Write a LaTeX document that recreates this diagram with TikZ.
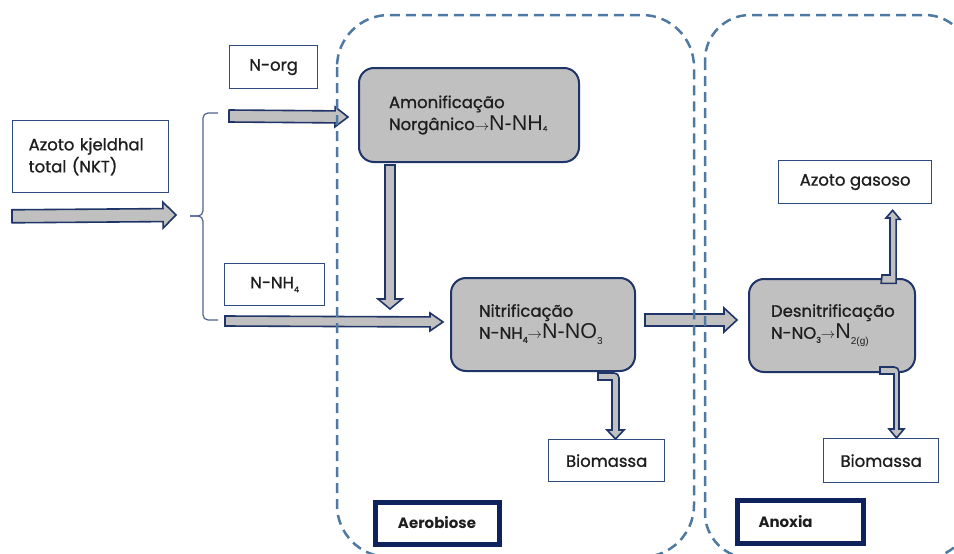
\documentclass[tikz,border=0pt]{standalone}
\usepackage{fontspec}
\setmainfont{Poppins}[UprightFeatures={FakeBold=1}]
\newfontfamily\chemfont{Liberation Sans}
\usetikzlibrary{calc}

\definecolor{navy}{HTML}{1F3468}
\definecolor{boxline}{HTML}{2F4B80}
\definecolor{procfill}{HTML}{C0C0C0}
\definecolor{zone}{HTML}{4E79A3}
\definecolor{txt}{HTML}{1E1E1E}
\definecolor{labelline}{HTML}{0E235E}
\definecolor{bracecol}{HTML}{50658F}

% chemical notation helpers
\newcommand\chem[1]{{\chemfont\fontsize{21.5}{21.5}\selectfont #1}}
\newcommand\lowsub[3]{\raisebox{-#2}{\fontsize{#1}{#1}\selectfont #3}}
\newcommand\arr{{\fontsize{14}{14}\selectfont$\rightarrow$}}

% block arrow: [style]{from}{to}{shaft half width}{head half width}{head length}
\newcommand\fatarrow[6][]{%
  \coordinate (fab) at ($(#3)!#6!(#2)$);
  \draw[fat,#1] ($(#2)!#4!90:(#3)$) -- ($(fab)!#4!90:(#3)$) -- ($(fab)!#5!90:(#3)$) -- (#3)
    -- ($(fab)!#5!-90:(#3)$) -- ($(fab)!#4!-90:(#3)$) -- ($(#2)!#4!-90:(#3)$) -- cycle;}

\begin{document}
\begin{tikzpicture}[x=1pt,y=-1pt,
  basefont/.style={font=\fontsize{16.5}{22}\selectfont, text=txt},
  textbox/.style={basefont, draw=boxline, line width=1.3pt, fill=white, inner sep=0pt, anchor=north west},
  process/.style={basefont, draw=navy, line width=2pt, fill=procfill, rounded corners=15pt,
    inner sep=0pt, align=left, anchor=north west},
  zonebox/.style={draw=zone, line width=2.5pt, dash pattern=on 10pt off 6pt},
  zonelabel/.style={draw=labelline, line width=5pt, fill=white, inner sep=0pt, text=txt,
    font=\bfseries\fontsize{15}{18}\selectfont, anchor=north west},
  fat/.style={draw=navy, line width=1.6pt, fill=procfill, line join=miter},
  brace/.style={draw=bracecol, line width=1.2pt, rounded corners=5pt}]

\useasboundingbox[fill=white] (0,0) rectangle (954,554);

% input and intermediate labels
\node[textbox, minimum width=156, minimum height=72, text width=124, align=left] (nkt) at (12,120)
  {Azoto kjeldhal\\total (NKT)};
\node[textbox, minimum width=88, minimum height=43] (norg) at (229,45) {N-org};
\node[textbox, minimum width=100, minimum height=42] (nnh) at (224,263)
  {N-NH\lowsub{8}{4pt}{4}};

% process steps
\node[process, minimum width=220, minimum height=94, text width=160] (amon) at (358,67)
  {Amonificação\\\mbox{Norgânico\arr\chem{N-NH}\lowsub{7}{1pt}{4}}};
\node[process, minimum width=184, minimum height=93, text width=128] (nitr) at (450,277)
  {Nitrificação\\\mbox{N-NH\lowsub{8}{4pt}{4}\arr\chem{N-NO}\lowsub{10}{6pt}{\chemfont 3}}};
\node[process, minimum width=166, minimum height=93, text width=122] (desn) at (748,278)
  {Desnitrificação\\\mbox{N-NO\lowsub{8}{4pt}{3}\arr\chem{N}\lowsub{10}{6pt}{\chemfont 2(g)}}};

% products
\node[textbox, minimum width=116, minimum height=42] (bio1) at (548,439) {Biomassa};
\node[textbox, minimum width=153, minimum height=43] (gas) at (778,160) {Azoto gasoso};
\node[textbox, minimum width=115, minimum height=44] (bio2) at (823,438) {Biomassa};

% splitting brace
\coordinate (bracetop) at (218,113);
\coordinate (bracemid) at (190,216);
\coordinate (bracebot) at (218,320);
\draw[brace] (bracetop) -| (203,216) -- (bracemid);
\draw[brace] (bracemid) -- (203,216) |- (bracebot);

% straight flows
\coordinate (nktsrc) at ($(nkt.south west)+(0,23)$);
\coordinate (nkttip) at ($(bracemid)+(-14,-1)$);
\fatarrow{nktsrc}{nkttip}{6.5pt}{13pt}{13pt}
\coordinate (orgsrc) at ($(bracetop)+(11,3)$);
\coordinate (orgtip) at ($(amon.west)+(-10,2)$);
\fatarrow{orgsrc}{orgtip}{6pt}{10pt}{13pt}
\coordinate (nhsrc) at ($(bracebot)+(7,1)$);
\coordinate (nhtip) at ($(nitr.west)+(-7,-2.5)$);
\fatarrow{nhsrc}{nhtip}{5pt}{9pt}{13pt}
\coordinate (amsrc) at ($(amon.south west)+(32,2)$);
\coordinate (amtip) at ($(amon.south west)+(32,146)$);
\fatarrow{amsrc}{amtip}{5pt}{12pt}{10pt}
\coordinate (nisrc) at ($(nitr.east)+(9,-4.5)$);
\coordinate (nitip) at ($(desn.west)+(-11,-5.5)$);
\fatarrow{nisrc}{nitip}{6pt}{12pt}{13pt}

% bent outlets
\draw[fat] ($(nitr.south east)+(-38,1)$) -- ++(16,0)
  .. controls +(3,0) and +(0,-3) .. ++(5,5) -- ++(0,52) -- ++(5,0) -- ++(-8.5,9)
  -- ++(-8.5,-9) -- ++(5,0) -- ++(0,-50) -- ++(-14,0) -- cycle;
\draw[fat] ($(desn.south east)+(-36,-6)$) -- ++(14,0)
  .. controls +(3,0) and +(0,-3) .. ++(5,5) -- ++(0,57) -- ++(5,0) -- ++(-7.5,9)
  -- ++(-7.5,-9) -- ++(5,0) -- ++(0,-55) -- ++(-14,0) -- cycle;
\draw[fat] ($(desn.north east)+(-34,-3)$) -- ++(8,0) -- ++(0,-57) -- ++(-4,0)
  -- ($(gas.south)+(37.5,6)$) -- ++(7.5,9) -- ++(-4,0) -- ++(0,64) -- ++(-15,0) -- cycle;

% treatment zones
\draw[zonebox, rounded corners=52pt] (337,15) rectangle (694,557);
\draw[zonebox, rounded corners=45pt] (705,15) rectangle (970,558);
\node[zonelabel, minimum width=124, minimum height=42] (aero) at (372.5,499.5) {Aerobiose};
\node[zonelabel, minimum width=126, minimum height=43, text width=83, align=left] (anox) at (734.5,497.5) {Anoxia};

\end{tikzpicture}
\end{document}
